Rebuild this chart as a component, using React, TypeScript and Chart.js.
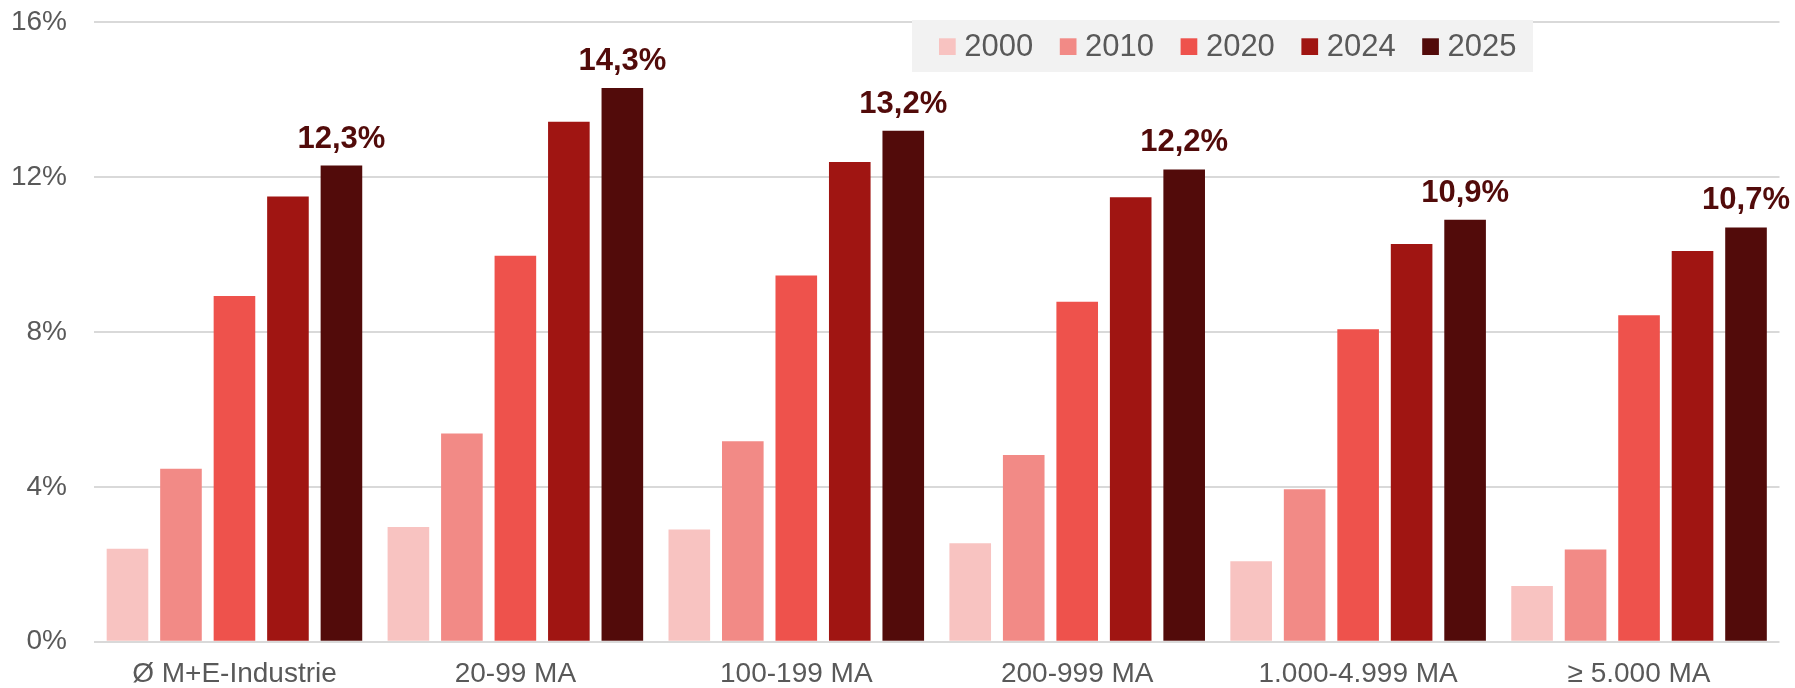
import React, { useEffect, useRef } from "react";
import { Chart, registerables } from "chart.js";

Chart.register(...registerables);

const categories = ["Ø M+E-Industrie", "20-99 MA", "100-199 MA", "200-999 MA", "1.000-4.999 MA", "≥ 5.000 MA"];
const seriesLabels = ["2000", "2010", "2020", "2024", "2025"];
const seriesColors = ["#F8C3C1", "#F28A86", "#EE524C", "#A01512", "#520B0A"];
const values2000 = [2.40, 2.96, 2.90, 2.54, 2.08, 1.44];
const values2010 = [4.47, 5.38, 5.18, 4.82, 3.94, 2.38];
const values2020 = [8.93, 9.97, 9.46, 8.78, 8.07, 8.43];
const values2024 = [11.5, 13.43, 12.39, 11.48, 10.27, 10.09];
const values2025 = [12.3, 14.3, 13.2, 12.2, 10.9, 10.7];
const yTicks = [0, 4, 8, 12, 16];

const FONT = "'Liberation Sans', Arial, sans-serif";
const TEXT_COLOR = "#595959";

const fmt = (v: number) => v.toFixed(1).replace(".", ",") + "%";

const legendPlugin = {
  id: "customLegend",
  afterDraw(chart: any) {
    const ctx = chart.ctx;
    ctx.save();
    const x0 = 912, y0 = 20, w = 621, h = 52;
    ctx.fillStyle = "#F2F2F2";
    ctx.fillRect(x0, y0, w, h);
    ctx.font = `31px ${FONT}`;
    ctx.textBaseline = "middle";
    ctx.textAlign = "left";
    chart.data.datasets.forEach((ds: any, i: number) => {
      const bx = 939 + i * 120.8;
      ctx.fillStyle = ds.backgroundColor;
      ctx.fillRect(bx, 38.3, 16.7, 16.7);
      ctx.fillStyle = TEXT_COLOR;
      ctx.fillText(ds.label, bx + 25.3, 47);
    });
    ctx.restore();
  },
};

const labelPlugin = {
  id: "topLabels",
  afterDatasetsDraw(chart: any) {
    const ctx = chart.ctx;
    const idx = chart.data.datasets.length - 1;
    const meta = chart.getDatasetMeta(idx);
    const data = chart.data.datasets[idx].data;
    ctx.save();
    ctx.font = `bold 31px ${FONT}`;
    ctx.fillStyle = "#520B0A";
    ctx.textAlign = "center";
    ctx.textBaseline = "alphabetic";
    meta.data.forEach((bar: any, i: number) => {
      ctx.fillText(fmt(data[i]), bar.x, bar.y - 18);
    });
    ctx.restore();
  },
};

export default function App() {
  const ref = useRef<HTMLCanvasElement>(null);
  useEffect(() => {
    if (!ref.current) return;
    const seriesValues = [values2000, values2010, values2020, values2024, values2025];
    const chart = new Chart(ref.current, {
      type: "bar",
      data: {
        labels: categories,
        datasets: seriesLabels.map((label, i) => ({
          label,
          data: seriesValues[i],
          backgroundColor: seriesColors[i],
          borderWidth: 0,
          categoryPercentage: 0.952,
          barPercentage: 0.778,
        })),
      },
      options: {
        responsive: false,
        animation: false,
        devicePixelRatio: 1,
        layout: { padding: { left: 0, right: 15.5, top: 22.3, bottom: 0 } },
        plugins: {
          legend: { display: false },
          tooltip: { enabled: false },
        },
        scales: {
          x: {
            grid: { display: false, drawTicks: false },
            border: { display: false },
            ticks: {
              color: TEXT_COLOR,
              font: { family: FONT, size: 28 },
              padding: 16,
              maxRotation: 0,
              autoSkip: false,
            },
            afterFit: (scale: any) => {
              scale.height = 46.3;
              scale.paddingLeft = 0;
              scale.paddingRight = 0;
            },
          },
          y: {
            min: 0,
            max: 16,
            afterBuildTicks: (scale: any) => {
              scale.ticks = yTicks.map((v) => ({ value: v }));
            },
            grid: { color: "#D9D9D9", lineWidth: 2, drawTicks: false },
            border: { display: false },
            ticks: {
              color: TEXT_COLOR,
              font: { family: FONT, size: 28 },
              padding: 27,
              callback: (v: any) => `${v}%`,
            },
            afterFit: (scale: any) => {
              scale.width = 94;
              scale.paddingTop = 0;
              scale.paddingBottom = 0;
            },
          },
        },
      },
      plugins: [labelPlugin, legendPlugin],
    });
    return () => chart.destroy();
  }, []);
  return (
    <div style={{ position: "absolute", left: 0, top: 0, width: 1795, height: 688, background: "#fff" }}>
      <canvas ref={ref} width={1795} height={688} style={{ width: 1795, height: 688, display: "block" }} />
    </div>
  );
}
